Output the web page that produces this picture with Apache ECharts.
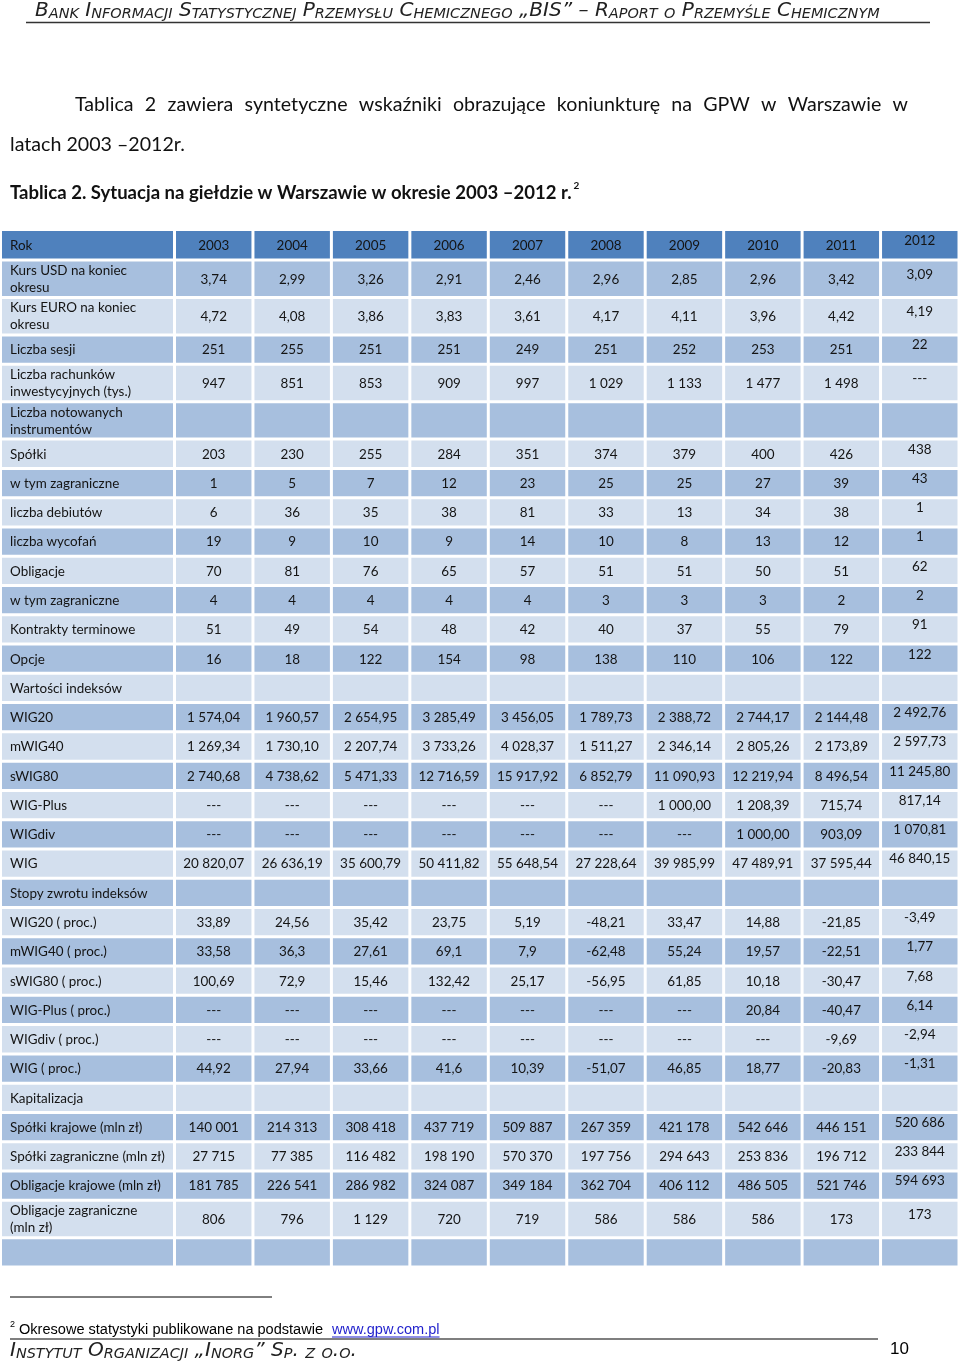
<!DOCTYPE html>
<html><head><meta charset="utf-8">
<script src="https://cdn.jsdelivr.net/npm/echarts@6/dist/echarts.min.js"></script>
<style>html,body{margin:0;padding:0;background:#fff}#main{width:960px;height:1362px}</style>
</head><body><div id="main"></div>
<script>
// ---------------- DATA ----------------
const years = ['2003','2004','2005','2006','2007','2008','2009','2010','2011','2012'];
const headerLabel = 'Rok';
const rowLabels = [
  'Kurs USD na koniec\nokresu',
  'Kurs EURO na koniec\nokresu',
  'Liczba sesji',
  'Liczba rachunków\ninwestycyjnych (tys.)',
  'Liczba notowanych\ninstrumentów',
  'Spółki',
  'w tym zagraniczne',
  'liczba debiutów',
  'liczba wycofań',
  'Obligacje',
  'w tym zagraniczne',
  'Kontrakty terminowe',
  'Opcje',
  'Wartości indeksów',
  'WIG20',
  'mWIG40',
  'sWIG80',
  'WIG-Plus',
  'WIGdiv',
  'WIG',
  'Stopy zwrotu indeksów',
  'WIG20 ( proc.)',
  'mWIG40 ( proc.)',
  'sWIG80 ( proc.)',
  'WIG-Plus ( proc.)',
  'WIGdiv ( proc.)',
  'WIG ( proc.)',
  'Kapitalizacja',
  'Spółki krajowe (mln zł)',
  'Spółki zagraniczne (mln zł)',
  'Obligacje krajowe (mln zł)',
  'Obligacje zagraniczne\n(mln zł)',
  ''
];
const kursUSD = ['3,74','2,99','3,26','2,91','2,46','2,96','2,85','2,96','3,42','3,09'];
const kursEURO = ['4,72','4,08','3,86','3,83','3,61','4,17','4,11','3,96','4,42','4,19'];
const liczbaSesji = ['251','255','251','251','249','251','252','253','251','22'];
const rachunki = ['947','851','853','909','997','1 029','1 133','1 477','1 498','---'];
const notowane = ['','','','','','','','','',''];
const spolki = ['203','230','255','284','351','374','379','400','426','438'];
const spolkiZagraniczne = ['1','5','7','12','23','25','25','27','39','43'];
const debiuty = ['6','36','35','38','81','33','13','34','38','1'];
const wycofania = ['19','9','10','9','14','10','8','13','12','1'];
const obligacje = ['70','81','76','65','57','51','51','50','51','62'];
const obligacjeZagraniczne = ['4','4','4','4','4','3','3','3','2','2'];
const kontrakty = ['51','49','54','48','42','40','37','55','79','91'];
const opcje = ['16','18','122','154','98','138','110','106','122','122'];
const wartosciIndeksow = ['','','','','','','','','',''];
const wig20 = ['1 574,04','1 960,57','2 654,95','3 285,49','3 456,05','1 789,73','2 388,72','2 744,17','2 144,48','2 492,76'];
const mwig40 = ['1 269,34','1 730,10','2 207,74','3 733,26','4 028,37','1 511,27','2 346,14','2 805,26','2 173,89','2 597,73'];
const swig80 = ['2 740,68','4 738,62','5 471,33','12 716,59','15 917,92','6 852,79','11 090,93','12 219,94','8 496,54','11 245,80'];
const wigPlus = ['---','---','---','---','---','---','1 000,00','1 208,39','715,74','817,14'];
const wigDiv = ['---','---','---','---','---','---','---','1 000,00','903,09','1 070,81'];
const wig = ['20 820,07','26 636,19','35 600,79','50 411,82','55 648,54','27 228,64','39 985,99','47 489,91','37 595,44','46 840,15'];
const stopyZwrotu = ['','','','','','','','','',''];
const wig20Proc = ['33,89','24,56','35,42','23,75','5,19','-48,21','33,47','14,88','-21,85','-3,49'];
const mwig40Proc = ['33,58','36,3','27,61','69,1','7,9','-62,48','55,24','19,57','-22,51','1,77'];
const swig80Proc = ['100,69','72,9','15,46','132,42','25,17','-56,95','61,85','10,18','-30,47','7,68'];
const wigPlusProc = ['---','---','---','---','---','---','---','20,84','-40,47','6,14'];
const wigDivProc = ['---','---','---','---','---','---','---','---','-9,69','-2,94'];
const wigProc = ['44,92','27,94','33,66','41,6','10,39','-51,07','46,85','18,77','-20,83','-1,31'];
const kapitalizacja = ['','','','','','','','','',''];
const kapSpolkiKrajowe = ['140 001','214 313','308 418','437 719','509 887','267 359','421 178','542 646','446 151','520 686'];
const kapSpolkiZagraniczne = ['27 715','77 385','116 482','198 190','570 370','197 756','294 643','253 836','196 712','233 844'];
const kapObligacjeKrajowe = ['181 785','226 541','286 982','324 087','349 184','362 704','406 112','486 505','521 746','594 693'];
const kapObligacjeZagraniczne = ['806','796','1 129','720','719','586','586','586','173','173'];
const pustyWiersz = ['','','','','','','','','',''];

const rowValues = [kursUSD, kursEURO, liczbaSesji, rachunki, notowane, spolki, spolkiZagraniczne,
  debiuty, wycofania, obligacje, obligacjeZagraniczne, kontrakty, opcje, wartosciIndeksow,
  wig20, mwig40, swig80, wigPlus, wigDiv, wig, stopyZwrotu, wig20Proc, mwig40Proc, swig80Proc,
  wigPlusProc, wigDivProc, wigProc, kapitalizacja, kapSpolkiKrajowe, kapSpolkiZagraniczne,
  kapObligacjeKrajowe, kapObligacjeZagraniczne, pustyWiersz];

// ---------------- STYLE / LAYOUT ----------------
const HEADER_FILL = '#4F81BD', MEDIUM_FILL = '#A7BFDE', LIGHT_FILL = '#D3DFEE';
const TEXT_COLOR = '#141414';
const GAP = 3;
const TABLE_FAMILY = 'Lato';
const TABLE_TOP = 229.5, TABLE_BOTTOM = 1267;

const ctx = document.createElement('canvas').getContext('2d');
function tw(t, font) { ctx.font = font; return ctx.measureText(t).width; }
function fitSize(text, target, fmt) { return 20 * target / tw(text, fmt(20)); }

const tableSize = Math.min(13.5, fitSize('Spółki zagraniczne (mln zł)', 155, s => s + 'px ' + TABLE_FAMILY));
const TABLE_FONT = tableSize.toFixed(2) + 'px ' + TABLE_FAMILY;

// row units: header slightly taller, two-line rows taller
const allLabels = [headerLabel].concat(rowLabels);
const allValues = [years].concat(rowValues);
const units = allLabels.map((l, i) => i === 0 ? 1.04 : (l.indexOf('\n') >= 0 ? 1.28 : 1));
const yStart = [], yEnd = [];
let acc = 0;
units.forEach(u => { yStart.push(acc); acc += u; yEnd.push(acc); });
const totalUnits = acc;

function rowFill(i) { return i === 0 ? HEADER_FILL : (i % 2 === 1 ? MEDIUM_FILL : LIGHT_FILL); }

const labelData = [], labelText = [], labelRow = [];
allLabels.forEach((l, i) => { labelData.push([0, yStart[i], yEnd[i]]); labelText.push(l); labelRow.push(i); });
const cellData = [], cellText = [], cellRow = [];
allValues.forEach((vals, i) => vals.forEach((v, c) => { cellData.push([c, yStart[i], yEnd[i]]); cellText.push(v); cellRow.push(i); }));

function makeRenderer(textOf, rowOf, isLabel) {
  return function (params, api) {
    const c = api.value(0), ya = api.value(1), yb = api.value(2);
    const p0 = api.coord([c, ya]), p1 = api.coord([c, yb]);
    const bw = api.size([1, 0])[0];
    const x0 = p0[0] - bw / 2 + GAP / 2;
    const top = Math.min(p0[1], p1[1]) + GAP / 2;
    const w = bw - GAP, h = Math.abs(p1[1] - p0[1]) - GAP;
    const row = rowOf[params.dataIndex];
    const lastCol = !isLabel && c === years.length - 1;
    const tx = isLabel ? x0 + 8 : x0 + w / 2;
    const ty = top + h / 2 + (lastCol ? -5 : 0) + 0.5;
    return {
      type: 'group',
      children: [
        { type: 'rect', shape: { x: x0, y: top, width: w, height: h }, style: { fill: rowFill(row) } },
        { type: 'text', x: tx, y: ty, style: {
            text: textOf[params.dataIndex], fill: TEXT_COLOR, font: TABLE_FONT,
            align: isLabel ? 'left' : 'center', verticalAlign: 'middle', lineHeight: 17 } }
      ]
    };
  };
}

// ---------------- SMALL CAPS HELPERS ----------------
const SC_FAMILY = '"DejaVu Sans"';
function scSegments(str) {
  const segs = []; let mode = null, buf = '';
  for (const ch of str) {
    const lower = ch !== ch.toUpperCase();
    const m = lower ? 's' : 'b';
    if (m !== mode && buf) { segs.push({ m: mode, t: buf }); buf = ''; }
    mode = m; buf += lower ? ch.toUpperCase() : ch;
  }
  if (buf) segs.push({ m: mode, t: buf });
  return segs;
}
function scWidth(segs, big, ratio) {
  let w = 0;
  segs.forEach(s => { w += tw(s.t, 'italic ' + (s.m === 'b' ? big : big * ratio) + 'px ' + SC_FAMILY); });
  return w;
}
function scText(str, x, yBottom, target, ratio, color) {
  const segs = scSegments(str);
  const big = 20 * target / scWidth(segs, 20, ratio);
  const small = big * ratio;
  return {
    type: 'text', x: x, y: yBottom,
    style: {
      text: segs.map(s => '{' + s.m + '|' + s.t + '}').join(''),
      fill: color, verticalAlign: 'bottom', align: 'left',
      rich: {
        b: { fontSize: big, fontStyle: 'italic', fontFamily: SC_FAMILY, lineHeight: big, verticalAlign: 'bottom', color: color },
        s: { fontSize: small, fontStyle: 'italic', fontFamily: SC_FAMILY, lineHeight: small, verticalAlign: 'bottom', color: color }
      }
    }
  };
}

// ---------------- TEXT BLOCKS ----------------
const graphics = [];
graphics.push(scText('Bank Informacji Statystycznej Przemysłu Chemicznego „BIS” – Raport o Przemyśle Chemicznym', 35, 21, 845, 0.72, '#222'));
graphics.push({ type: 'line', shape: { x1: 26, y1: 22.5, x2: 930, y2: 22.5 }, style: { stroke: '#333', lineWidth: 1.5 } });

const paraFamily = 'Lato';
const paraSize = fitSize('latach 2003 –2012r.', 175, s => s + 'px ' + paraFamily);
const paraFont = paraSize.toFixed(2) + 'px ' + paraFamily;
const line1 = 'Tablica 2 zawiera syntetyczne wskaźniki obrazujące koniunkturę na GPW w Warszawie w';
(function () {
  const words = line1.split(' ');
  const widths = words.map(w => tw(w, paraFont));
  const sum = widths.reduce((a, b) => a + b, 0);
  const gap = (908 - 75 - sum) / (words.length - 1);
  let x = 75;
  words.forEach((w, i) => {
    graphics.push({ type: 'text', x: x, y: 105, style: { text: w, font: paraFont, fill: '#111', verticalAlign: 'middle' } });
    x += widths[i] + gap;
  });
})();
graphics.push({ type: 'text', x: 10, y: 145, style: { text: 'latach 2003 –2012r.', font: paraFont, fill: '#111', verticalAlign: 'middle' } });

const titleText = 'Tablica 2. Sytuacja na giełdzie w Warszawie w okresie 2003 –2012 r.';
const titleSize = fitSize(titleText, 562, s => 'bold ' + s + 'px ' + paraFamily);
const titleFont = 'bold ' + titleSize.toFixed(2) + 'px ' + paraFamily;
graphics.push({ type: 'text', x: 10, y: 193, style: { text: titleText, font: titleFont, fill: '#111', verticalAlign: 'middle' } });
graphics.push({ type: 'text', x: 10 + tw(titleText, titleFont) + 2, y: 186, style: { text: '2', font: 'bold 10px ' + paraFamily, fill: '#111', verticalAlign: 'middle' } });

// footnote
graphics.push({ type: 'line', shape: { x1: 10, y1: 1297, x2: 272, y2: 1297 }, style: { stroke: '#000', lineWidth: 1 } });
const fnFamily = '"Liberation Sans", Arial';
const fnText = 'Okresowe statystyki publikowane na podstawie';
const fnSize = fitSize(fnText, 304, s => s + 'px ' + fnFamily);
const fnFont = fnSize.toFixed(2) + 'px ' + fnFamily;
graphics.push({ type: 'text', x: 10, y: 1325, style: { text: '2', font: '9px ' + fnFamily, fill: '#000', verticalAlign: 'middle' } });
graphics.push({ type: 'text', x: 19, y: 1330, style: { text: fnText, font: fnFont, fill: '#000', verticalAlign: 'middle' } });
const linkX = 332, linkW = tw('www.gpw.com.pl', fnFont);
graphics.push({ type: 'text', x: linkX, y: 1330, style: { text: 'www.gpw.com.pl', font: fnFont, fill: '#1F1FCC', verticalAlign: 'middle' } });
graphics.push({ type: 'line', shape: { x1: linkX, y1: 1337, x2: linkX + linkW, y2: 1337 }, style: { stroke: '#1F1FCC', lineWidth: 1 } });

// footer
graphics.push({ type: 'line', shape: { x1: 10, y1: 1339, x2: 878, y2: 1339 }, style: { stroke: '#7f7f7f', lineWidth: 2 } });
graphics.push(scText('Instytut Organizacji „Inorg” Sp. z o.o.', 10, 1361, 347, 0.72, '#222'));
graphics.push({ type: 'text', x: 890, y: 1349, style: { text: '10', font: '17px ' + fnFamily, fill: '#000', verticalAlign: 'middle' } });

// ---------------- CHART ----------------
const chart = echarts.init(document.getElementById('main'), null, { renderer: 'canvas' });
chart.setOption({
  animation: false,
  backgroundColor: '#ffffff',
  grid: [
    { left: 0.5, width: 174, top: TABLE_TOP, height: TABLE_BOTTOM - TABLE_TOP },
    { left: 174.5, width: 784.5, top: TABLE_TOP, height: TABLE_BOTTOM - TABLE_TOP }
  ],
  xAxis: [
    { gridIndex: 0, type: 'category', data: ['label'], show: false },
    { gridIndex: 1, type: 'category', data: years, show: false }
  ],
  yAxis: [
    { gridIndex: 0, type: 'value', min: 0, max: totalUnits, inverse: true, show: false },
    { gridIndex: 1, type: 'value', min: 0, max: totalUnits, inverse: true, show: false }
  ],
  series: [
    { type: 'custom', xAxisIndex: 0, yAxisIndex: 0, data: labelData, renderItem: makeRenderer(labelText, labelRow, true), encode: { x: 0, y: [1, 2] } },
    { type: 'custom', xAxisIndex: 1, yAxisIndex: 1, data: cellData, renderItem: makeRenderer(cellText, cellRow, false), encode: { x: 0, y: [1, 2] } }
  ],
  graphic: graphics
});
</script></body></html>
